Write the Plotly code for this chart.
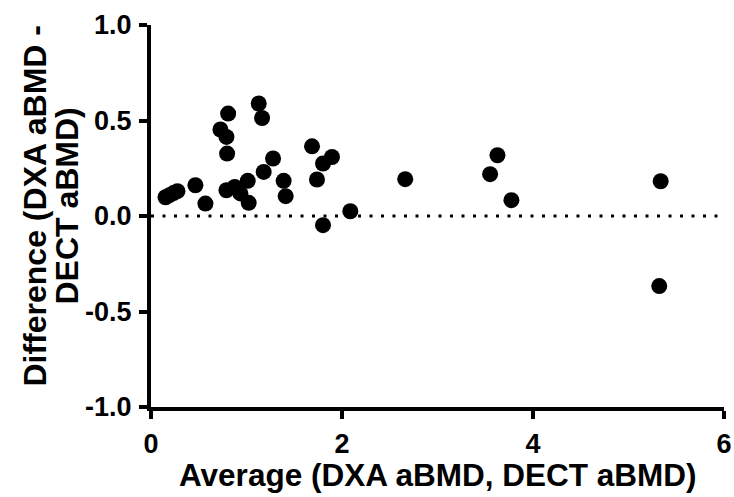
import plotly.graph_objects as go

# Bland-Altman data: average vs difference
avg = [0.152, 0.194, 0.235, 0.277, 0.465, 0.570, 0.808, 0.727, 0.790, 0.797,
       0.790, 0.877, 0.936, 1.013, 1.023, 1.128, 1.163, 1.180, 1.278, 1.389,
       1.410, 1.686, 1.738, 1.801, 1.895, 1.801, 2.087, 2.662, 3.628, 3.551,
       3.774, 5.337, 5.322]
diff = [0.098, 0.109, 0.120, 0.130, 0.161, 0.065, 0.536, 0.453, 0.414, 0.327,
        0.135, 0.152, 0.118, 0.184, 0.069, 0.589, 0.513, 0.231, 0.301, 0.184,
        0.104, 0.365, 0.191, 0.275, 0.309, -0.048, 0.025, 0.193, 0.318, 0.219,
        0.083, 0.182, -0.367]

x_ticks = [0, 2, 4, 6]
x_ticktext = ["0", "2", "4", "6"]
y_ticks = [-1.0, -0.5, 0.0, 0.5, 1.0]
y_ticktext = ["-1.0", "-0.5", "0.0", "0.5", "1.0"]

x_title = "Average (DXA aBMD, DECT aBMD)"
y_title_lines = ["Difference (DXA aBMD -", "DECT aBMD)"]

FONT = "Liberation Sans, Arial, sans-serif"

fig = go.Figure()
fig.add_trace(go.Scatter(
    x=avg, y=diff, mode="markers",
    marker=dict(size=16, color="black", line=dict(width=0)),
    showlegend=False, cliponaxis=False,
))

fig.add_shape(type="line", x0=0, x1=6, y0=0, y1=0, xref="x", yref="y",
              line=dict(color="black", width=3, dash="3px,8.5px"), layer="below")

axis_common = dict(
    showline=True, linecolor="black", linewidth=4,
    ticks="outside", ticklen=8, tickwidth=3.5, tickcolor="black",
    showgrid=False, zeroline=False, ticklabelstandoff=2, automargin=False,
    tickfont=dict(family=FONT, size=27, color="black", weight="bold"),
)

fig.update_xaxes(range=[0, 6], tickvals=x_ticks, ticktext=x_ticktext, **axis_common)
fig.update_yaxes(range=[-1, 1], tickvals=y_ticks, ticktext=y_ticktext, **axis_common)

annotations = [
    dict(text=x_title, xref="paper", yref="paper", x=0.5, y=0, xanchor="center",
         yanchor="middle", yshift=-68, showarrow=False,
         font=dict(family=FONT, size=31.5, color="black", weight="bold")),
    dict(text=y_title_lines[0], xref="paper", yref="paper", x=0, y=0.526,
         xanchor="center", yanchor="middle", xshift=-115.5, textangle=-90,
         showarrow=False, font=dict(family=FONT, size=32, color="black", weight="bold")),
    dict(text=y_title_lines[1], xref="paper", yref="paper", x=0, y=0.526,
         xanchor="center", yanchor="middle", xshift=-83.5, textangle=-90,
         showarrow=False, font=dict(family=FONT, size=32, color="black", weight="bold")),
]

fig.update_layout(
    width=734, height=497,
    margin=dict(l=150.5, r=9.9, t=24.7, b=90.1, autoexpand=False),
    plot_bgcolor="white", paper_bgcolor="white",
    annotations=annotations,
)

fig.write_html(
    "out.html",
    config={"displayModeBar": False},
    post_script="document.body.style.margin='0';document.body.style.overflow='hidden';",
)
